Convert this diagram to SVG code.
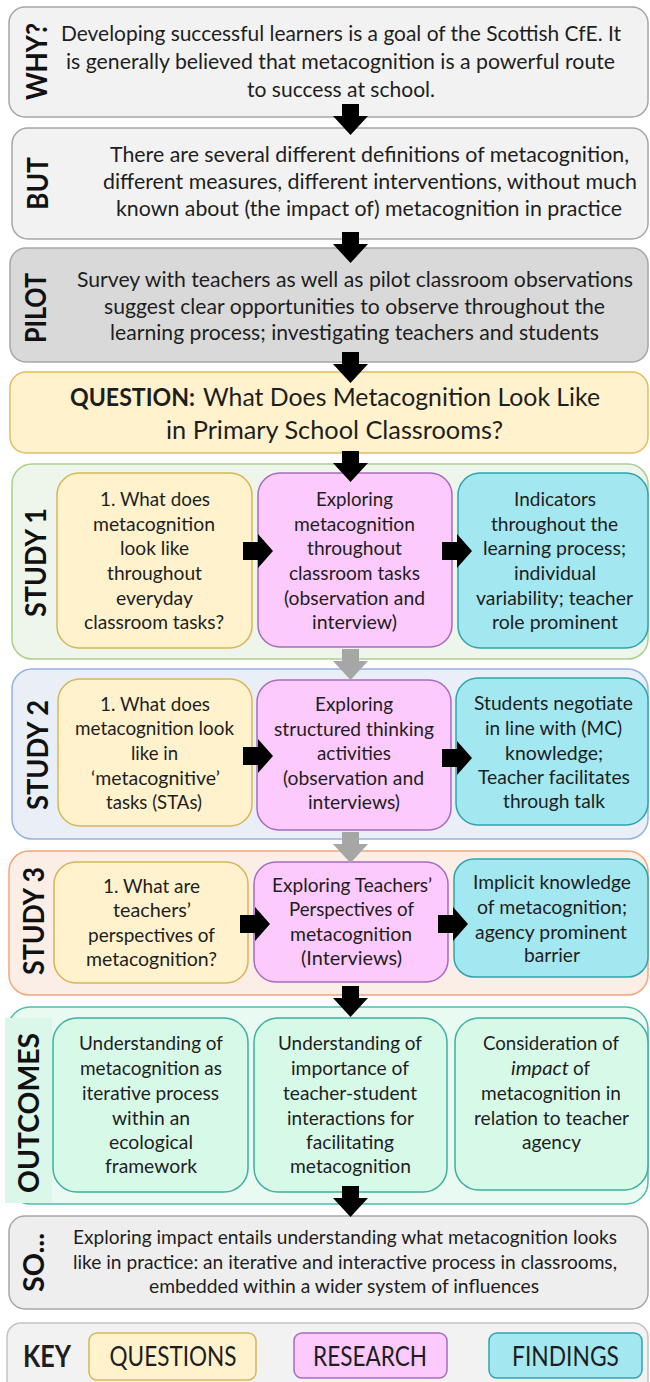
<svg xmlns="http://www.w3.org/2000/svg" width="650" height="1382" viewBox="0 0 650 1382">
<style>
text{font-family:Lato,"Open Sans",sans-serif;fill:#1e1e1e}
.t{font-size:19px;text-anchor:middle}
.w{font-size:21px;text-anchor:middle}
.q{font-size:25px}
.lab{font-size:29px;font-weight:bold;text-anchor:middle;fill:#111}
.k{font-size:26px;text-anchor:middle}
.gray{fill:#f2f2f2;stroke:#a6a6a6;stroke-width:1.5}
.yel{fill:#fff2cc;stroke:#d6b656;stroke-width:1.5}
.pnk{fill:#fdcafd;stroke:#a66bc0;stroke-width:1.5}
.cyn{fill:#a3e7f0;stroke:#2ca5ae;stroke-width:1.5}
.out{fill:#d7f9e8;stroke:#3db0a0;stroke-width:1.5}
.blk{fill:#000}
.gry{fill:#a6a6a6}
</style>
<defs>
<path id="dn" d="M-8.5,0 H8.5 V12 H17.5 L0,31 L-17.5,12 H-8.5 Z"/>
<path id="rt" d="M0,-9 H15 V-17 L30,0 L15,17 V9 H0 Z"/>
</defs>

<g id="why">
<rect class="gray" x="9" y="7" width="639" height="110" rx="16"/>
<text class="lab" transform="translate(47,61.5) rotate(-90)" textLength="77" lengthAdjust="spacingAndGlyphs">WHY?</text>
<text class="w" x="341" y="41" textLength="560" lengthAdjust="spacingAndGlyphs">Developing successful learners is a goal of the Scottish CfE. It</text>
<text class="w" x="340.5" y="69" textLength="549" lengthAdjust="spacingAndGlyphs">is generally believed that metacognition is a powerful route</text>
<text class="w" x="341" y="97" textLength="188" lengthAdjust="spacingAndGlyphs">to success at school.</text>
</g>

<g id="but">
<rect class="gray" x="12" y="128" width="636" height="111" rx="16"/>
<text class="lab" transform="translate(48,183.5) rotate(-90)" textLength="53" lengthAdjust="spacingAndGlyphs">BUT</text>
<text class="w" x="369.5" y="162" textLength="519" lengthAdjust="spacingAndGlyphs">There are several different definitions of metacognition,</text>
<text class="w" x="370" y="189" textLength="534" lengthAdjust="spacingAndGlyphs">different measures, different interventions, without much</text>
<text class="w" x="369" y="216" textLength="506" lengthAdjust="spacingAndGlyphs">known about (the impact of) metacognition in practice</text>
</g>

<g id="pilot">
<rect x="10" y="248" width="638" height="114" rx="16" fill="#d9d9d9" stroke="#a6a6a6" stroke-width="1.5"/>
<text class="lab" transform="translate(46,308) rotate(-90)" textLength="70" lengthAdjust="spacingAndGlyphs">PILOT</text>
<text class="w" x="355" y="287" textLength="556" lengthAdjust="spacingAndGlyphs">Survey with teachers as well as pilot classroom observations</text>
<text class="w" x="354.5" y="314" textLength="501" lengthAdjust="spacingAndGlyphs">suggest clear opportunities to observe throughout the</text>
<text class="w" x="354.5" y="340" textLength="489" lengthAdjust="spacingAndGlyphs">learning process; investigating teachers and students</text>
</g>

<g id="question">
<rect x="10" y="372" width="638" height="81" rx="16" fill="#fff2cc" stroke="#e3bd5e" stroke-width="1.5"/>
<text class="q" x="70" y="405.5" font-weight="bold" textLength="125" lengthAdjust="spacingAndGlyphs">QUESTION:</text>
<text class="q" x="203" y="405.5" textLength="397" lengthAdjust="spacingAndGlyphs">What Does Metacognition Look Like</text>
<text class="q" x="334.5" y="438.5" text-anchor="middle" textLength="337" lengthAdjust="spacingAndGlyphs">in Primary School Classrooms?</text>
</g>

<g id="study1">
<rect x="12" y="464" width="636" height="195" rx="20" fill="#eef5ea" stroke="#a9d18e" stroke-width="1.5"/>
<text class="lab" transform="translate(46,562.5) rotate(-90)" textLength="109" lengthAdjust="spacingAndGlyphs">STUDY 1</text>
</g>
<g id="s1q">
<rect class="yel" x="57" y="473" width="195" height="175" rx="22"/>
<text class="t" x="155" y="506" textLength="110" lengthAdjust="spacingAndGlyphs">1. What does</text>
<text class="t" x="154" y="531" textLength="122" lengthAdjust="spacingAndGlyphs">metacognition</text>
<text class="t" x="154.5" y="555" textLength="69" lengthAdjust="spacingAndGlyphs">look like</text>
<text class="t" x="154.5" y="580" textLength="95" lengthAdjust="spacingAndGlyphs">throughout</text>
<text class="t" x="154.5" y="605" textLength="77" lengthAdjust="spacingAndGlyphs">everyday</text>
<text class="t" x="154" y="629" textLength="140" lengthAdjust="spacingAndGlyphs">classroom tasks?</text>
</g>
<g id="s1r">
<rect class="pnk" x="258" y="473" width="194" height="174" rx="22"/>
<text class="t" x="354.5" y="506" textLength="77" lengthAdjust="spacingAndGlyphs">Exploring</text>
<text class="t" x="354.5" y="531" textLength="121" lengthAdjust="spacingAndGlyphs">metacognition</text>
<text class="t" x="354.5" y="555" textLength="95" lengthAdjust="spacingAndGlyphs">throughout</text>
<text class="t" x="354.5" y="580" textLength="131" lengthAdjust="spacingAndGlyphs">classroom tasks</text>
<text class="t" x="354.5" y="605" textLength="141" lengthAdjust="spacingAndGlyphs">(observation and</text>
<text class="t" x="354.5" y="629" textLength="85" lengthAdjust="spacingAndGlyphs">interview)</text>
</g>
<g id="s1f">
<rect class="cyn" x="458" y="473" width="190" height="175" rx="22"/>
<text class="t" x="555" y="506" textLength="82" lengthAdjust="spacingAndGlyphs">Indicators</text>
<text class="t" x="554.5" y="531" textLength="127" lengthAdjust="spacingAndGlyphs">throughout the</text>
<text class="t" x="554.5" y="555" textLength="143" lengthAdjust="spacingAndGlyphs">learning process;</text>
<text class="t" x="555" y="580" textLength="82" lengthAdjust="spacingAndGlyphs">individual</text>
<text class="t" x="554.5" y="605" textLength="157" lengthAdjust="spacingAndGlyphs">variability; teacher</text>
<text class="t" x="555" y="629" textLength="126" lengthAdjust="spacingAndGlyphs">role prominent</text>
</g>

<g id="study2">
<rect x="12" y="669" width="636" height="170" rx="20" fill="#e9eef7" stroke="#92b4e3" stroke-width="1.5"/>
<text class="lab" transform="translate(48,755) rotate(-90)" textLength="110" lengthAdjust="spacingAndGlyphs">STUDY 2</text>
</g>
<g id="s2q">
<rect class="yel" x="58" y="679" width="194" height="147" rx="22"/>
<text class="t" x="155" y="711" textLength="110" lengthAdjust="spacingAndGlyphs">1. What does</text>
<text class="t" x="154.5" y="735" textLength="159" lengthAdjust="spacingAndGlyphs">metacognition look</text>
<text class="t" x="154.5" y="760" textLength="47" lengthAdjust="spacingAndGlyphs">like in</text>
<text class="t" x="155.5" y="785" textLength="129" lengthAdjust="spacingAndGlyphs">‘metacognitive’</text>
<text class="t" x="154" y="809" textLength="96" lengthAdjust="spacingAndGlyphs">tasks (STAs)</text>
</g>
<g id="s2r">
<rect class="pnk" x="257" y="680" width="194" height="150" rx="22"/>
<text class="t" x="354" y="711" textLength="78" lengthAdjust="spacingAndGlyphs">Exploring</text>
<text class="t" x="354" y="736" textLength="160" lengthAdjust="spacingAndGlyphs">structured thinking</text>
<text class="t" x="354" y="760" textLength="74" lengthAdjust="spacingAndGlyphs">activities</text>
<text class="t" x="353.5" y="785" textLength="141" lengthAdjust="spacingAndGlyphs">(observation and</text>
<text class="t" x="354" y="809" textLength="92" lengthAdjust="spacingAndGlyphs">interviews)</text>
</g>
<g id="s2f">
<rect class="cyn" x="456" y="678" width="192" height="147" rx="22"/>
<text class="t" x="553.5" y="710" textLength="159" lengthAdjust="spacingAndGlyphs">Students negotiate</text>
<text class="t" x="553.5" y="735" textLength="137" lengthAdjust="spacingAndGlyphs">in line with (MC)</text>
<text class="t" x="554" y="760" textLength="98" lengthAdjust="spacingAndGlyphs">knowledge;</text>
<text class="t" x="554" y="784" textLength="152" lengthAdjust="spacingAndGlyphs">Teacher facilitates</text>
<text class="t" x="554" y="808" textLength="102" lengthAdjust="spacingAndGlyphs">through talk</text>
</g>

<g id="study3">
<rect x="9" y="851" width="639" height="144" rx="20" fill="#fbeee6" stroke="#f4a77a" stroke-width="1.5"/>
<text class="lab" transform="translate(44,921) rotate(-90)" textLength="108" lengthAdjust="spacingAndGlyphs">STUDY 3</text>
</g>
<g id="s3q">
<rect class="yel" x="54" y="862" width="194" height="121" rx="22"/>
<text class="t" x="151.5" y="893" textLength="97" lengthAdjust="spacingAndGlyphs">1. What are</text>
<text class="t" x="152" y="917" textLength="78" lengthAdjust="spacingAndGlyphs">teachers’</text>
<text class="t" x="151.5" y="942" textLength="127" lengthAdjust="spacingAndGlyphs">perspectives of</text>
<text class="t" x="151.5" y="966" textLength="131" lengthAdjust="spacingAndGlyphs">metacognition?</text>
</g>
<g id="s3r">
<rect class="pnk" x="254" y="862" width="194" height="120" rx="22"/>
<text class="t" x="352" y="892" textLength="160" lengthAdjust="spacingAndGlyphs">Exploring Teachers’</text>
<text class="t" x="351.5" y="916" textLength="125" lengthAdjust="spacingAndGlyphs">Perspectives of</text>
<text class="t" x="351" y="941" textLength="122" lengthAdjust="spacingAndGlyphs">metacognition</text>
<text class="t" x="351.5" y="965" textLength="101" lengthAdjust="spacingAndGlyphs">(Interviews)</text>
</g>
<g id="s3f">
<rect class="cyn" x="454" y="859" width="194" height="118" rx="20"/>
<text class="t" x="552" y="889" textLength="158" lengthAdjust="spacingAndGlyphs">Implicit knowledge</text>
<text class="t" x="552" y="914" textLength="150" lengthAdjust="spacingAndGlyphs">of metacognition;</text>
<text class="t" x="551" y="939" textLength="152" lengthAdjust="spacingAndGlyphs">agency prominent</text>
<text class="t" x="552" y="962" textLength="56" lengthAdjust="spacingAndGlyphs">barrier</text>
</g>

<g id="outcomes">
<rect x="8" y="1007" width="640" height="197" rx="22" fill="#e8faf1" stroke="#4fbcab" stroke-width="1.5"/>
<rect x="5" y="1018" width="47" height="185" fill="#dbf7e9"/>
<text class="lab" transform="translate(39,1113) rotate(-90)" textLength="160" lengthAdjust="spacingAndGlyphs">OUTCOMES</text>
</g>
<g id="o1">
<rect class="out" x="53" y="1018" width="195" height="174" rx="24"/>
<text class="t" x="151" y="1050" textLength="144" lengthAdjust="spacingAndGlyphs">Understanding of</text>
<text class="t" x="151" y="1075" textLength="142" lengthAdjust="spacingAndGlyphs">metacognition as</text>
<text class="t" x="150.5" y="1100" textLength="137" lengthAdjust="spacingAndGlyphs">iterative process</text>
<text class="t" x="151" y="1125" textLength="78" lengthAdjust="spacingAndGlyphs">within an</text>
<text class="t" x="151" y="1149" textLength="84" lengthAdjust="spacingAndGlyphs">ecological</text>
<text class="t" x="151" y="1173" textLength="92" lengthAdjust="spacingAndGlyphs">framework</text>
</g>
<g id="o2">
<rect class="out" x="254" y="1018" width="193" height="174" rx="24"/>
<text class="t" x="350" y="1050" textLength="144" lengthAdjust="spacingAndGlyphs">Understanding of</text>
<text class="t" x="350" y="1075" textLength="118" lengthAdjust="spacingAndGlyphs">importance of</text>
<text class="t" x="350" y="1100" textLength="134" lengthAdjust="spacingAndGlyphs">teacher-student</text>
<text class="t" x="350.5" y="1125" textLength="127" lengthAdjust="spacingAndGlyphs">interactions for</text>
<text class="t" x="350" y="1149" textLength="88" lengthAdjust="spacingAndGlyphs">facilitating</text>
<text class="t" x="350.5" y="1173" textLength="121" lengthAdjust="spacingAndGlyphs">metacognition</text>
</g>
<g id="o3">
<rect class="out" x="455" y="1018" width="193" height="172" rx="24"/>
<text class="t" x="551" y="1050" textLength="136" lengthAdjust="spacingAndGlyphs">Consideration of</text>
<text x="511" y="1075" font-size="19" font-style="italic" textLength="58" lengthAdjust="spacingAndGlyphs">impact</text>
<text x="573" y="1075" font-size="19" textLength="17" lengthAdjust="spacingAndGlyphs">of</text>
<text class="t" x="551" y="1100" textLength="140" lengthAdjust="spacingAndGlyphs">metacognition in</text>
<text class="t" x="551.5" y="1125" textLength="155" lengthAdjust="spacingAndGlyphs">relation to teacher</text>
<text class="t" x="551.5" y="1149" textLength="59" lengthAdjust="spacingAndGlyphs">agency</text>
</g>

<g id="so">
<rect x="9" y="1216" width="639" height="93" rx="16" fill="#eeeeee" stroke="#a6a6a6" stroke-width="1.5"/>
<text class="lab" transform="translate(44,1262.5) rotate(-90)" textLength="59" lengthAdjust="spacingAndGlyphs">SO...</text>
<text class="t" x="345" y="1244" textLength="544" lengthAdjust="spacingAndGlyphs">Exploring impact entails understanding what metacognition looks</text>
<text class="t" x="345" y="1269" textLength="544" lengthAdjust="spacingAndGlyphs">like in practice: an iterative and interactive process in classrooms,</text>
<text class="t" x="344" y="1293" textLength="390" lengthAdjust="spacingAndGlyphs">embedded within a wider system of influences</text>
</g>

<g id="key">
<rect x="7" y="1323" width="641" height="80" rx="14" fill="#f2f2f2" stroke="#c4c4c4" stroke-width="1.5"/>
<text x="23" y="1367" font-size="30" font-weight="bold" fill="#111" textLength="48" lengthAdjust="spacingAndGlyphs">KEY</text>
</g>
<g id="key-questions">
<rect class="yel" x="89" y="1333" width="167" height="47" rx="8"/>
<text class="k" x="173" y="1366" textLength="127" lengthAdjust="spacingAndGlyphs">QUESTIONS</text>
</g>
<g id="key-research">
<rect class="pnk" x="294" y="1333" width="153" height="45" rx="8"/>
<text class="k" x="370" y="1366" textLength="114" lengthAdjust="spacingAndGlyphs">RESEARCH</text>
</g>
<g id="key-findings">
<rect class="cyn" x="489" y="1333" width="153" height="45" rx="8"/>
<text class="k" x="565.5" y="1366" textLength="107" lengthAdjust="spacingAndGlyphs">FINDINGS</text>
</g>

<g id="connectors">
<use href="#dn" class="blk" x="350.5" y="104"/>
<use href="#dn" class="blk" x="350.5" y="232"/>
<use href="#dn" class="blk" x="350.5" y="352"/>
<use href="#dn" class="blk" x="350.5" y="451"/>
<use href="#dn" class="gry" x="350.5" y="649"/>
<use href="#dn" class="gry" x="350.5" y="832"/>
<use href="#dn" class="blk" x="350.5" y="986"/>
<use href="#dn" class="blk" x="350.5" y="1186"/>
<use href="#rt" class="blk" x="243" y="551"/>
<use href="#rt" class="blk" x="442" y="551"/>
<use href="#rt" class="blk" x="243" y="756"/>
<use href="#rt" class="blk" x="442" y="758"/>
<use href="#rt" class="blk" x="240" y="924"/>
<use href="#rt" class="blk" x="438" y="924"/>
</g>
</svg>
